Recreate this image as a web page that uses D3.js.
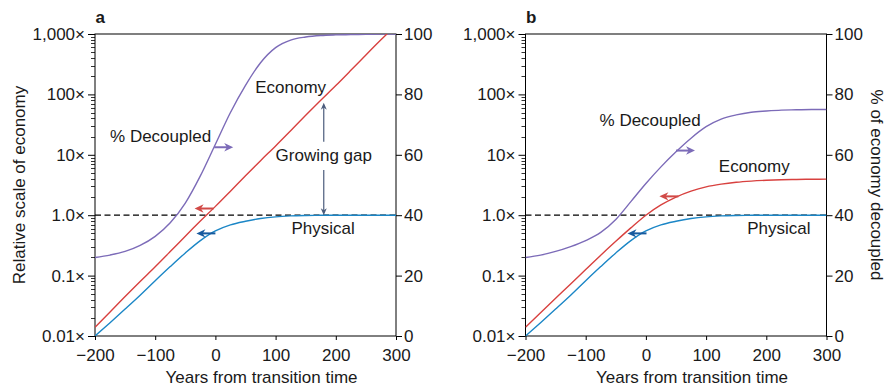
<!DOCTYPE html>
<html>
<head>
<meta charset="utf-8">
<script src="https://cdn.jsdelivr.net/npm/d3@7"></script>
<style>
body { margin: 0; background: #fff; }
text { font-family: "Liberation Sans", Arial, sans-serif; font-size: 17px; fill: #1a1a1a; }
</style>
</head>
<body>
<svg id="chart" width="885" height="387"></svg>
<script>
// years from transition time, one value every 25 years
const years = [-200, -175, -150, -125, -100, -75, -50, -25, 0, 25, 50, 75, 100, 125, 150, 175, 200, 225, 250, 275, 300]
const xTicks = [-200, -100, 0, 100, 200, 300]
const leftTicks = [0.01, 0.1, 1, 10, 100, 1000]
const leftTickLabels = ['0.01×', '0.1×', '1.0×', '10×', '100×', '1,000×']
const rightTicks = [0, 20, 40, 60, 80, 100]

// panel a
const decoupledA = [26, 26.8, 28, 30, 33, 37.5, 44, 53, 63.5, 74, 83, 90.5, 95.5, 98, 99, 99.5, 99.7, 99.8, 99.9, 100, 100]
const economyA = [0.014, 0.025, 0.045, 0.08, 0.14, 0.25, 0.45, 0.8, 1.4, 2.5, 4.5, 8, 14, 25, 45, 80, 140, 250, 450, 800, 1400]
// panel b
const decoupledB = [26, 26.8, 28, 29.6, 31.6, 34.3, 38.6, 44.5, 50.5, 56, 61, 65.5, 69.3, 71.8, 73.2, 74.1, 74.5, 74.8, 74.9, 75, 75]
const economyB = [0.014, 0.0243, 0.0421, 0.0729, 0.126, 0.218, 0.37, 0.617, 1.0, 1.48, 2.0, 2.51, 2.95, 3.27, 3.51, 3.67, 3.78, 3.86, 3.91, 3.94, 3.95]
// same physical curve in both panels
const physical = [0.01, 0.0166, 0.0279, 0.0473, 0.0822, 0.141, 0.237, 0.38, 0.55, 0.692, 0.794, 0.881, 0.94, 0.973, 0.989, 0.997, 1, 1, 1, 1, 1]

// arrows: [year, value, direction] (value in % for decoupled, scale otherwise)
const arrowsA = { dec: [-2, 62.5, 1], econ: [-3, 1.29, -1], phys: [0, 0.5, -1] }
const arrowsB = { dec: [50, 61.4, 1], econ: [54, 2.05, -1], phys: [1, 0.5, -1] }

// text labels: [text, year, value on log scale]
const labelsA = [['Economy', 125, 104], ['% Decoupled', -91, 16.4], ['Growing gap', 180, 7.9], ['Physical', 179, 0.48]]
const labelsB = [['% Decoupled', 7, 30], ['Economy', 180, 5.2], ['Physical', 221, 0.48]]

// growing gap arrow (panel a): year, from, to, break for label
const gapYear = 180, gapFrom = 1, gapTo = 73, gapBreak = [5.6, 16.4]

const colors = { dec: '#7c6bb8', econ: '#d8413f', phys: '#1b86c6' }
const arrowColors = { dec: '#7c6bb8', econ: '#d14a47', phys: '#175a9e' }

let svg = d3.select('#chart'),
    plotTop = 34,
    plotBottom = 336,
    w = 301

let yLog = d3.scaleLog().domain([0.01, 1000]).range([plotBottom, plotTop]),
    yPct = d3.scaleLinear().domain([0, 100]).range([plotBottom, plotTop])

let panels = [
    { left: 95, letter: 'a', dec: decoupledA, econ: economyA, arrows: arrowsA, labels: labelsA, gap: true, rightTitle: null },
    { left: 525.5, letter: 'b', dec: decoupledB, econ: economyB, arrows: arrowsB, labels: labelsB, gap: false, rightTitle: '% of economy decoupled' }
]

panels.forEach(drawPanel)

function drawPanel(p, i) {
    let g = svg.append('g'),
        x = d3.scaleLinear().domain([-200, 300]).range([p.left, p.left + w])

    g.append('clipPath').attr('id', 'clip' + i)
        .append('rect').attr('x', p.left).attr('y', plotTop).attr('width', w).attr('height', plotBottom - plotTop)

    // axes
    g.append('g').attr('transform', `translate(0,${plotBottom})`)
        .call(d3.axisBottom(x).tickValues(xTicks).tickSize(4).tickPadding(9)
            .tickFormat(d => d < 0 ? '\u2212' + Math.abs(d) : d))
        .call(a => a.select('.domain').remove())

    g.append('g').attr('transform', `translate(${p.left},0)`)
        .call(d3.axisLeft(yLog).tickValues(leftTicks).tickSize(7).tickPadding(3)
            .tickFormat((d, k) => leftTickLabels[k]))
        .call(a => a.select('.domain').remove())

    // minor log ticks
    let minor = yLog.ticks().filter(v => Math.abs(Math.log10(v) - Math.round(Math.log10(v))) > 1e-6)
    g.append('g').selectAll('line').data(minor).join('line')
        .attr('x1', p.left - 4).attr('x2', p.left)
        .attr('y1', d => Math.round(yLog(d)) + 0.5).attr('y2', d => Math.round(yLog(d)) + 0.5)
        .attr('stroke', '#000').attr('stroke-width', 0.8)

    g.append('g').attr('transform', `translate(${p.left + w},0)`)
        .call(d3.axisRight(yPct).tickValues(rightTicks).tickSize(6).tickPadding(2))
        .call(a => a.select('.domain').remove())

    g.append('rect').attr('x', p.left).attr('y', plotTop).attr('width', w).attr('height', plotBottom - plotTop)
        .attr('fill', 'none').attr('stroke', '#000').attr('stroke-width', 1)

    // reference line at 1.0x
    g.append('line')
        .attr('x1', p.left).attr('x2', p.left + w)
        .attr('y1', yLog(1)).attr('y2', yLog(1))
        .attr('stroke', '#000').attr('stroke-width', 1.3).attr('stroke-dasharray', '6,3.5')

    let lineLog = d3.line().x(d => x(d[0])).y(d => yLog(d[1])).curve(d3.curveMonotoneX),
        linePct = d3.line().x(d => x(d[0])).y(d => yPct(d[1])).curve(d3.curveMonotoneX),
        curves = g.append('g').attr('clip-path', `url(#clip${i})`)

    curves.append('path').attr('d', linePct(d3.zip(years, p.dec)))
        .attr('fill', 'none').attr('stroke', colors.dec).attr('stroke-width', 1.4)
    curves.append('path').attr('d', lineLog(d3.zip(years, p.econ)))
        .attr('fill', 'none').attr('stroke', colors.econ).attr('stroke-width', 1.4)
    curves.append('path').attr('d', lineLog(d3.zip(years, physical)))
        .attr('fill', 'none').attr('stroke', colors.phys).attr('stroke-width', 1.4)

    // little arrows pointing to the matching axis
    drawArrow(g, x(p.arrows.dec[0]), yPct(p.arrows.dec[1]), p.arrows.dec[2], arrowColors.dec)
    drawArrow(g, x(p.arrows.econ[0]), yLog(p.arrows.econ[1]), p.arrows.econ[2], arrowColors.econ)
    drawArrow(g, x(p.arrows.phys[0]), yLog(p.arrows.phys[1]), p.arrows.phys[2], arrowColors.phys)

    g.append('g').selectAll('text').data(p.labels).join('text')
        .attr('x', d => x(d[1])).attr('y', d => yLog(d[2]))
        .attr('text-anchor', 'middle')
        .text(d => d[0])

    if (p.gap) {
        let gx = x(gapYear)
        drawThinArrow(g, gx, yLog(gapBreak[1]), yLog(gapTo))
        drawThinArrow(g, gx, yLog(gapBreak[0]), yLog(gapFrom))
    }

    // panel letter
    g.append('text').attr('x', p.left + 0.5).attr('y', 23)
        .style('font-weight', 'bold')
        .text(p.letter)

    // x axis title
    g.append('text')
        .attr('x', p.left + w / 2 + 16).attr('y', 382.5)
        .attr('text-anchor', 'middle')
        .text('Years from transition time')

    if (p.rightTitle) {
        g.append('text')
            .attr('transform', `translate(871,${(plotTop + plotBottom) / 2}) rotate(90)`)
            .attr('text-anchor', 'middle')
            .text(p.rightTitle)
    }
}

svg.append('text')
    .attr('transform', `translate(25,${(plotTop + plotBottom) / 2}) rotate(-90)`)
    .attr('text-anchor', 'middle')
    .text('Relative scale of economy')

function drawArrow(g, x0, y0, dir, color) {
    const len = 19, head = 9, hw = 4.2
    let tip = x0 + dir * len
    g.append('line')
        .attr('x1', x0).attr('y1', y0)
        .attr('x2', tip - dir * head * 0.6).attr('y2', y0)
        .attr('stroke', color).attr('stroke-width', 2)
    g.append('path')
        .attr('d', `M${tip},${y0}L${tip - dir * head},${y0 - hw}L${tip - dir * head * 0.7},${y0}L${tip - dir * head},${y0 + hw}Z`)
        .attr('fill', color)
}

function drawThinArrow(g, x0, yStart, yTip) {
    const head = 7, hw = 3
    let dir = yTip < yStart ? -1 : 1
    g.append('line')
        .attr('x1', x0).attr('y1', yStart)
        .attr('x2', x0).attr('y2', yTip - dir * head * 0.6)
        .attr('stroke', '#4b5c7c').attr('stroke-width', 1.2)
    g.append('path')
        .attr('d', `M${x0},${yTip}L${x0 - hw},${yTip - dir * head}L${x0},${yTip - dir * head * 0.7}L${x0 + hw},${yTip - dir * head}Z`)
        .attr('fill', '#4b5c7c')
}
</script>
</body>
</html>
